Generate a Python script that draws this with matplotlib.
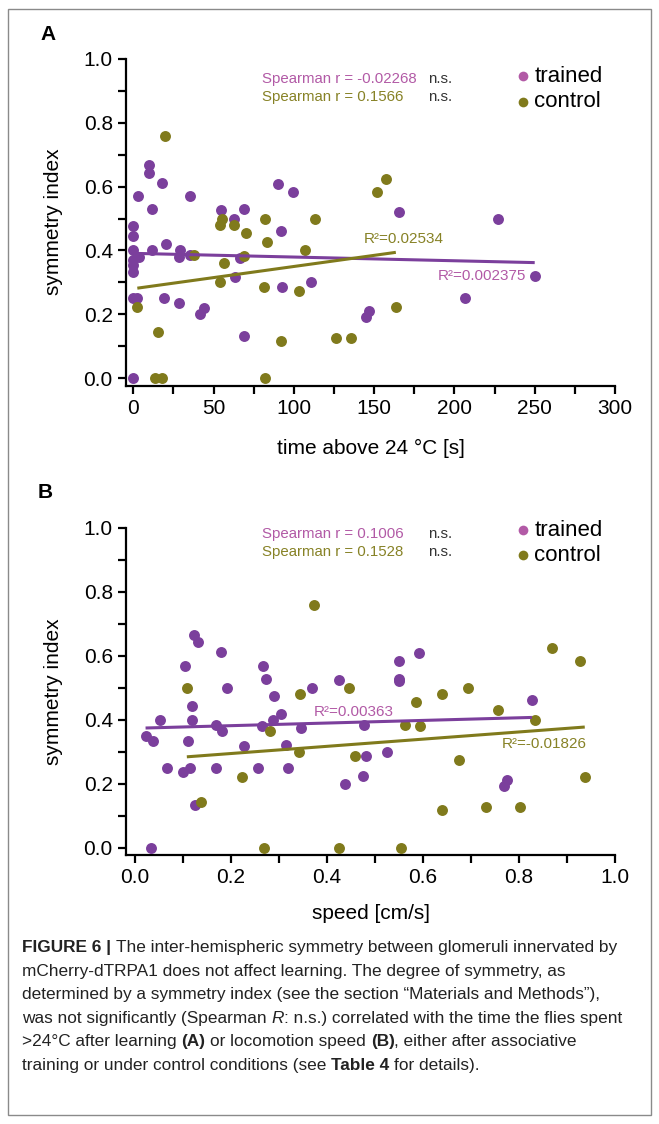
import numpy as np
import matplotlib
matplotlib.use('Agg')
import matplotlib.pyplot as plt
from matplotlib.patches import Rectangle
from matplotlib.ticker import MultipleLocator

plt.rcParams['font.family'] = ['Liberation Sans', 'DejaVu Sans']

# panel A: time above 24 °C [s] vs symmetry index
time_trained = [0, 0, 0, 0, 0, 0, 0, 3.7, 0, 2.5, 3.1, 9.6, 10, 11.7, 11.9, 17.9, 20.2,
                19.4, 28.3, 29.2, 28.5, 35, 35, 41.3, 44.2, 54.8, 62.5, 63.5, 69.2, 66.7,
                69.2, 90.4, 92, 92.5, 99.2, 110.6, 144.8, 146.9, 165.4, 206.5, 227.3, 250]
si_time_trained = [0.0, 0.477, 0.445, 0.402, 0.37, 0.355, 0.334, 0.381, 0.25, 0.25, 0.571,
                   0.667, 0.641, 0.53, 0.402, 0.61, 0.42, 0.25, 0.235, 0.402, 0.381, 0.571,
                   0.386, 0.20, 0.221, 0.527, 0.50, 0.316, 0.529, 0.375, 0.132, 0.608, 0.462,
                   0.285, 0.583, 0.30, 0.191, 0.212, 0.521, 0.25, 0.50, 0.321]
time_control = [19.6, 2.5, 15.6, 13.75, 17.9, 37.5, 53.75, 55.4, 56.25, 54.2, 62.9, 70, 69.2,
                81.9, 83.5, 81.7, 81.9, 92, 103, 106.9, 113, 126, 135.4, 152, 157.3, 163.5]
si_time_control = [0.758, 0.222, 0.144, 0.0, 0.0, 0.386, 0.48, 0.497, 0.362, 0.30, 0.48, 0.454,
                   0.383, 0.50, 0.428, 0.285, 0.0, 0.118, 0.273, 0.402, 0.50, 0.125, 0.125,
                   0.583, 0.624, 0.222]

# panel B: speed [cm/s] vs symmetry index
speed_trained = [0.022, 0.038, 0.052, 0.033, 0.066, 0.104, 0.099, 0.115, 0.110, 0.118, 0.119,
                 0.123, 0.131, 0.125, 0.168, 0.182, 0.168, 0.18, 0.192, 0.227, 0.257, 0.264,
                 0.266, 0.272, 0.29, 0.287, 0.304, 0.315, 0.318, 0.345, 0.369, 0.426, 0.478,
                 0.474, 0.4375, 0.482, 0.524, 0.549, 0.549, 0.549, 0.592, 0.827, 0.775, 0.769]
si_speed_trained = [0.348, 0.332, 0.40, 0.0, 0.249, 0.569, 0.236, 0.249, 0.332, 0.444, 0.40,
                    0.665, 0.641, 0.133, 0.384, 0.364, 0.249, 0.61, 0.499, 0.317, 0.249, 0.381,
                    0.569, 0.528, 0.475, 0.40, 0.419, 0.322, 0.249, 0.374, 0.499, 0.525, 0.384,
                    0.223, 0.20, 0.286, 0.299, 0.582, 0.528, 0.522, 0.608, 0.462, 0.213, 0.192]
speed_control = [0.373, 0.108, 0.137, 0.222, 0.269, 0.281, 0.344, 0.342, 0.446, 0.459, 0.426,
                 0.554, 0.562, 0.594, 0.585, 0.64, 0.693, 0.674, 0.64, 0.731, 0.756, 0.803,
                 0.834, 0.868, 0.928, 0.937]
si_speed_control = [0.758, 0.499, 0.143, 0.221, 0.0, 0.364, 0.48, 0.299, 0.499, 0.286, 0.0, 0.0,
                    0.384, 0.381, 0.455, 0.48, 0.499, 0.273, 0.119, 0.127, 0.429, 0.127, 0.40,
                    0.623, 0.582, 0.221]

# linear fits as drawn (intercept, slope)
fit_time_trained = [0.391, -0.000116]
fit_time_control = [0.2803, 0.000696]
fit_speed_trained = [0.3731, 0.041]
fit_speed_control = [0.2719, 0.1122]

spearman_time = ['Spearman r = -0.02268', 'Spearman r = 0.1566']
spearman_speed = ['Spearman r = 0.1006', 'Spearman r = 0.1528']
r2_time = ['R\u00b2=0.002375', 'R\u00b2=0.02534']
r2_speed = ['R\u00b2=0.00363', 'R\u00b2=-0.01826']
groups = ['trained', 'control']

PURPLE = '#7b3f9c'
OLIVE = '#807a1c'
PURPLE_TXT = '#b25aa6'
OLIVE_TXT = '#878226'
NS = '#333333'

W, H = 659, 1124
fig = plt.figure(figsize=(W / 100, H / 100), dpi=100)


def fit_line(ax, x, fit, color):
    xs = np.array([min(x), max(x)])
    ax.plot(xs, fit[0] + fit[1] * xs, color=color, lw=2.2, zorder=4, solid_capstyle='butt')


def draw_panel(rect, xt, yt, xc, yc, ft, fc, xlim, major, minor, xlabel, fmt,
               spear, r2, r2pos, leg_y, sp_y, xpad):
    ax = fig.add_axes(rect)
    ax.scatter(xt, yt, s=62, color=PURPLE, linewidths=0, zorder=3, clip_on=False)
    ax.scatter(xc, yc, s=62, color=OLIVE, linewidths=0, zorder=3, clip_on=False)
    fit_line(ax, xt, ft, PURPLE)
    fit_line(ax, xc, fc, OLIVE)
    ax.set_xlim(*xlim)
    ax.set_ylim(-0.0225, 1.0)
    ax.xaxis.set_major_locator(MultipleLocator(major))
    ax.xaxis.set_minor_locator(MultipleLocator(minor))
    ax.yaxis.set_major_locator(MultipleLocator(0.2))
    ax.yaxis.set_minor_locator(MultipleLocator(0.1))
    ax.xaxis.set_major_formatter(fmt)
    ax.yaxis.set_major_formatter(lambda v, p: f'{v:.1f}')
    for s in ['top', 'right']:
        ax.spines[s].set_visible(False)
    for s in ['left', 'bottom']:
        ax.spines[s].set_linewidth(1.6)
    ax.tick_params(which='both', direction='out', width=1.6, labelsize=15)
    ax.tick_params(which='major', length=5.5, pad=4)
    ax.tick_params(which='minor', length=5.5)
    ax.set_xlabel(xlabel, fontsize=15, labelpad=xpad)
    ax.set_ylabel('symmetry index', fontsize=15, labelpad=15)

    # statistics text
    ax.text(0.2775, sp_y[0], spear[0], transform=ax.transAxes, color=PURPLE_TXT,
            fontsize=10.8, va='center')
    ax.text(0.2775, sp_y[1], spear[1], transform=ax.transAxes, color=OLIVE_TXT,
            fontsize=10.8, va='center')
    for yy in sp_y:
        ax.text(0.617, yy, 'n.s.', transform=ax.transAxes, color=NS, fontsize=10.8, va='center')

    # legend
    for yy, g, c in zip(leg_y, groups, [PURPLE_TXT, OLIVE]):
        ax.plot([0.811], [yy], 'o', ms=7, color=c, mec='none', transform=ax.transAxes,
                clip_on=False)
        ax.text(0.835, yy, g, transform=ax.transAxes, fontsize=16, va='center')

    # R² labels
    for (px, py, ha), txt, c in zip(r2pos, r2, [PURPLE_TXT, OLIVE_TXT]):
        ax.text(px, py, txt, color=c, fontsize=11, ha=ha, va='center')
    return ax


def fx(px):
    return px / W


def fy(py):
    return 1 - py / H


# panel A
axA = draw_panel([fx(126), fy(385.5), 489 / W, 326.8 / H],
                 time_trained, si_time_trained, time_control, si_time_control,
                 fit_time_trained, fit_time_control, (-4.55, 300), 50, 25,
                 'time above 24 \u00b0C [s]', lambda v, p: f'{v:.0f}',
                 spearman_time, r2_time,
                 [(244.5, 0.321, 'right'), (143.3, 0.436, 'left')],
                 [0.947, 0.868], [0.937, 0.882], 15)

# panel B
axB = draw_panel([fx(126), fy(855), 489 / W, 327.5 / H],
                 speed_trained, si_speed_trained, speed_control, si_speed_control,
                 fit_speed_trained, fit_speed_control, (-0.01875, 1.0), 0.2, 0.1,
                 'speed [cm/s]', lambda v, p: f'{v:.1f}',
                 spearman_speed, r2_speed,
                 [(0.373, 0.424, 'left'), (0.765, 0.324, 'left')],
                 [0.992, 0.916], [0.979, 0.924], 12)

fig.text(fx(40), fy(35), 'A', fontsize=15, fontweight='bold', va='center')
fig.text(fx(38), fy(493), 'B', fontsize=15, fontweight='bold', va='center')

# outer frame
fig.add_artist(Rectangle((fx(8), fy(1115)), (651 - 8) / W, (1115 - 9) / H,
                         transform=fig.transFigure, fill=False, ec='#8a8a8a', lw=1.0))

# caption with mixed styles
caption = [
    [('FIGURE 6 |', 'bold', 'normal'),
     (' The inter-hemispheric symmetry between glomeruli innervated by', 'normal', 'normal')],
    [('mCherry-dTRPA1 does not affect learning. The degree of symmetry, as', 'normal', 'normal')],
    [('determined by a symmetry index (see the section \u201cMaterials and Methods\u201d),',
      'normal', 'normal')],
    [('was not significantly (Spearman ', 'normal', 'normal'), ('R', 'normal', 'italic'),
     (': n.s.) correlated with the time the flies spent', 'normal', 'normal')],
    [('>24\u00b0C after learning ', 'normal', 'normal'), ('(A)', 'bold', 'normal'),
     (' or locomotion speed ', 'normal', 'normal'), ('(B)', 'bold', 'normal'),
     (', either after associative', 'normal', 'normal')],
    [('training or under control conditions (see ', 'normal', 'normal'),
     ('Table 4', 'bold', 'normal'), (' for details).', 'normal', 'normal')],
]
cap_size = 12.4
renderer = fig.canvas.get_renderer()
t1 = fig.text(0, 0, 'x x', fontsize=cap_size)
t2 = fig.text(0, 0, 'xx', fontsize=cap_size)
space_w = t1.get_window_extent(renderer).width - t2.get_window_extent(renderer).width
t1.remove()
t2.remove()

y0 = 952
for i, line in enumerate(caption):
    x = 22.0
    y = y0 + i * 23.6
    for txt, weight, style in line:
        if txt.startswith(' '):
            x += space_w
        body = txt.strip()
        t = fig.text(fx(x), fy(y), body, fontsize=cap_size, fontweight=weight,
                     fontstyle=style, va='baseline', ha='left', color='#222222')
        x += t.get_window_extent(renderer).width
        if txt.endswith(' '):
            x += space_w

fig.savefig('out.png', dpi=100)
